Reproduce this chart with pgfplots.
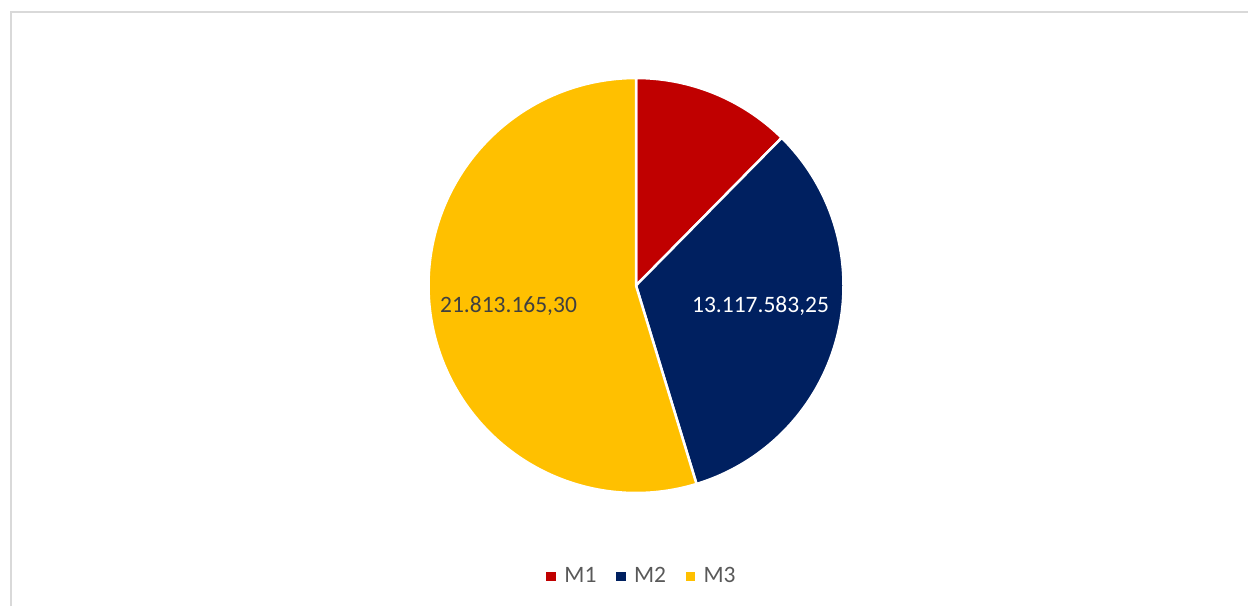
\documentclass[border=0pt]{standalone}
\usepackage{pgfplots}
\pgfplotsset{compat=1.18}
\usepackage{fontspec}
\setmainfont{Carlito}
\definecolor{cM1}{HTML}{C00000}
\definecolor{cM2}{HTML}{002060}
\definecolor{cM3}{HTML}{FFC000}
\definecolor{lbl}{HTML}{404040}
\definecolor{leg}{HTML}{595959}
\definecolor{frame}{HTML}{D9D9D9}
% values in millions
\def\vA{4.94}          % M1 (no label shown)
\def\vB{13.11758325}   % M2
\def\vC{21.8131653}    % M3
\pgfmathsetmacro\tot{\vA+\vB+\vC}
\pgfmathsetmacro\aA{360*\vA/\tot}
\pgfmathsetmacro\aB{\aA+360*\vB/\tot}
\def\cx{636}
\def\cy{285.5}
\def\R{207.5}
\begin{document}
\begin{tikzpicture}
\begin{axis}[
  at={(0,0)}, anchor=south west,
  scale only axis, width=1248pt, height=606pt,
  xmin=0, xmax=1248, ymin=0, ymax=606, y dir=reverse,
  hide axis, clip=false,
  legend columns=3,
  legend style={at={(axis cs:641,576)}, anchor=center, draw=none, fill=none,
    font=\fontsize{23.5}{28}\selectfont, text=leg,
    nodes={inner sep=0pt},
    /tikz/every odd column/.append style={column sep=9pt},
    /tikz/every even column/.append style={column sep=19.5pt}},
]
\addplot[forget plot, fill=cM1, draw=white, line width=2.5pt, domain=0:\aA, samples=60, variable=\t]
  ({\cx+\R*sin(t)}, {\cy-\R*cos(t)}) -- (axis cs:\cx,\cy) -- cycle;
\addplot[forget plot, fill=cM2, draw=white, line width=2.5pt, domain=\aA:\aB, samples=100, variable=\t]
  ({\cx+\R*sin(t)}, {\cy-\R*cos(t)}) -- (axis cs:\cx,\cy) -- cycle;
\addplot[forget plot, fill=cM3, draw=white, line width=2.5pt, domain=\aB:360, samples=150, variable=\t]
  ({\cx+\R*sin(t)}, {\cy-\R*cos(t)}) -- (axis cs:\cx,\cy) -- cycle;
\node[text=white, font=\fontsize{23.5}{28}\selectfont] at (axis cs:760.5,306) {13.117.583,25};
\node[text=lbl, font=\fontsize{23.5}{28}\selectfont] at (axis cs:508.5,306) {21.813.165,30};
\addlegendimage{legend image code/.code={\fill[cM1] (0pt,-4.3pt) rectangle (8.7pt,4.3pt);}}
\addlegendentry{M1}
\addlegendimage{legend image code/.code={\fill[cM2] (0pt,-4.3pt) rectangle (8.7pt,4.3pt);}}
\addlegendentry{M2}
\addlegendimage{legend image code/.code={\fill[cM3] (0pt,-4.3pt) rectangle (8.7pt,4.3pt);}}
\addlegendentry{M3}
\draw[frame, line width=1.6pt] (axis cs:11.2,606) -- (axis cs:11.2,11.8) -- (axis cs:1248,11.8);
\end{axis}
\pgfresetboundingbox
\path (0,0) rectangle (1248pt,606pt);
\end{tikzpicture}
\end{document}
